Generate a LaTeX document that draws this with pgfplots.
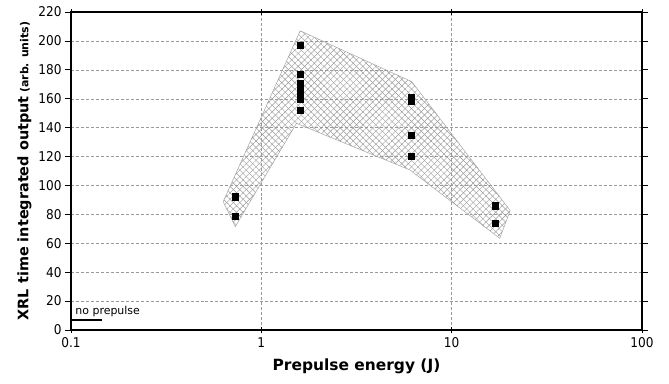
\documentclass[border=0pt]{standalone}
\usepackage{pgfplots}
\pgfplotsset{compat=1.18}
\usepackage{fontspec}
\setmainfont{DejaVu Sans}
\newfontfamily\tickfont{DejaVu Sans Condensed}
\usetikzlibrary{patterns.meta}
\begin{document}
\begin{tikzpicture}
\begin{axis}[
  scale only axis,
  width=571bp, height=318bp,
  xmode=log, log basis x=10,
  xmin=0.1, xmax=100, ymin=0, ymax=220,
  ytick={0,20,...,220},
  xtick={0.1,1,10,100},
  xticklabels={0.1,1,10,100},
  log ticks with fixed point,
  /pgf/number format/assume math mode=true,
  ticklabel style={font=\tickfont\fontsize{13.5}{15}\selectfont, text=black},
  xticklabel style={yshift=-1bp},
  grid=major,
  major grid style={densely dashed, black!40, line width=0.4pt},
  axis line style={line width=1.1pt, black},
  x tick style={black, line width=0.8pt},
  y tick style={black, line width=0.8pt},
  xtick align=center,
  ytick align=outside,
  major tick length=6bp,
  minor tick length=4bp,
  minor x tick style={yshift=2bp},
  xlabel={\fontsize{15.5}{17}\selectfont\bfseries Prepulse energy (J)},
  ylabel={\bfseries{\fontsize{14.5}{16}\selectfont XRL time integrated output} {\fontsize{11}{13}\selectfont (arb. units)}},
  xlabel style={yshift=-4bp},
  ylabel style={yshift=0bp},
  clip=false,
]
% hatched band
\addplot[draw=black!35, line width=0.5pt, pattern={Lines[angle=45,distance=4.6pt,line width=0.45pt]}, pattern color=black!40] coordinates {
(0.63,88.8) (0.73,71.5) (1.53,143) (6.04,110.7) (17.9,63.4) (20.3,82.6) (6.17,171.8) (1.6,207) (0.63,88.8)};
\addplot[draw=none, pattern={Lines[angle=-45,distance=4.6pt,line width=0.45pt]}, pattern color=black!40] coordinates {
(0.63,88.8) (0.73,71.5) (1.53,143) (6.04,110.7) (17.9,63.4) (20.3,82.6) (6.17,171.8) (1.6,207) (0.63,88.8)};
% data points
\addplot[only marks, mark=square*, mark size=3.1bp, mark options={fill=black, draw=black}] coordinates {
(0.73,92.2) (0.73,78.9)
(1.6,197) (1.6,177) (1.6,171) (1.6,165.6) (1.6,160) (1.6,152)
(6.1,160.8) (6.1,158.5) (6.1,135) (6.1,120)
(17,86) (17,74)};
% no prepulse level
\addplot[black, line width=2pt] coordinates {(0.1,7) (0.146,7)};
\node[anchor=south west, font=\fontsize{11}{12}\selectfont, inner sep=1pt] at (axis cs:0.104,8.5) {no prepulse};
\end{axis}
\path (current axis.south west) ++(-71bp,-54bp) coordinate (bbA);
\path (current axis.north east) ++(27bp,12bp) coordinate (bbB);
\path (bbA) rectangle (bbB);
\end{tikzpicture}
\end{document}
